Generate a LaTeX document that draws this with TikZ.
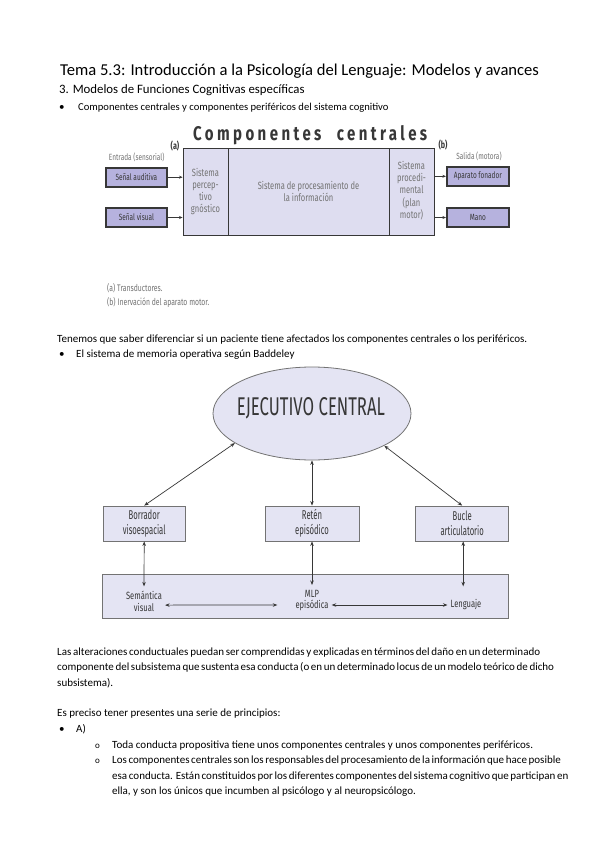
\documentclass[tikz,border=0pt]{standalone}
\usepackage{fontspec}
\usepackage{graphicx}
\setmainfont{Carlito}
\newfontfamily\cond[FakeStretch=0.72]{Fira Sans}
\newfontfamily\condn[FakeStretch=0.6]{Fira Sans}
\newfontfamily\headfont[FakeStretch=0.7,LetterSpace=16,WordSpace=2.2]{Fira Sans}
\usetikzlibrary{arrows.meta,shapes.geometric,calc}
\definecolor{lavA}{RGB}{222,221,240}
\definecolor{lavB}{RGB}{182,178,222}
\definecolor{lavC}{RGB}{228,228,243}
\definecolor{dgray}{RGB}{55,55,55}
\definecolor{mgray}{RGB}{115,115,115}
\definecolor{bgray}{RGB}{115,115,115}
\begin{document}
\begin{tikzpicture}[x=1pt,y=-1pt,
  body/.style={anchor=base west, inner sep=0, font=\fontsize{11}{13}\selectfont},
  box1/.style={draw=dgray, line width=0.9pt, fill=lavA, inner sep=0, minimum height=87,
     font=\cond\fontsize{10.5}{12.2}\selectfont, text=mgray, align=center},
  iobox/.style={draw=dgray, line width=2pt, fill=lavB, inner sep=0, minimum width=60.5, minimum height=19,
     font=\cond\fontsize{9}{10}\selectfont, text=dgray},
  lab1/.style={inner sep=0, font=\cond\fontsize{9}{10}\selectfont, text=mgray},
  arr/.style={-{Stealth[length=3.5pt,width=3pt]}, draw=dgray, line width=0.6pt},
  box2/.style={draw=bgray, line width=0.8pt, fill=lavC, inner sep=0, minimum height=35,
     font=\condn\fontsize{12.8}{15}\selectfont, text=dgray, align=center},
  txt2/.style={inner sep=0, font=\cond\fontsize{10.5}{11.5}\selectfont, text=dgray, align=center},
  dbl/.style={{Stealth[length=4.5pt,width=3.5pt]}-{Stealth[length=4.5pt,width=3.5pt]}, draw=dgray, line width=0.7pt}
]
\useasboundingbox (0,0) rectangle (599,848);
\fill[white] (0,0) rectangle (599,848);

% ---------- header text ----------
\node[anchor=base west, inner sep=0, font=\fontsize{16.6}{18}\selectfont] (title) at (60,76)
  {Tema 5.3: Introducción a la Psicología del Lenguaje: Modelos y avances};
\node[anchor=base west, inner sep=0, font=\fontsize{12.8}{15}\selectfont] (sub) at (59,94)
  {3. Modelos de Funciones Cognitivas específicas};
\node[body] (b1) at (59,111) {•};
\node[body, font=\fontsize{10.6}{12}\selectfont] (b1t) at (78,111)
  {Componentes centrales y componentes periféricos del sistema cognitivo};

% ---------- diagram 1 ----------
\node[anchor=base west, inner sep=0, text=dgray] (head) at (193,140)
  {\resizebox{234pt}{15pt}{\headfont\bfseries Componentes centrales}};

\node[box1, minimum width=45] (perc) at (205.5,191.5) {Sistema\\percep-\\tivo\\gnóstico};
\node[box1, minimum width=161] (proc) at (308.5,191.5) {Sistema de procesamiento de\\la información};
\node[box1, minimum width=45] (mot) at (411.5,191.5) {\raisebox{5pt}{\begin{tabular}{@{}c@{}}Sistema\\procedi-\\mental\\(plan\\motor)\end{tabular}}};

\node[iobox] (aud) at (136.4,177.2) {Señal auditiva};
\node[iobox] (vis) at (136.4,217.5) {Señal visual};
\node[iobox, minimum width=62] (fon) at (477.9,176.3) {Aparato fonador};
\node[iobox, minimum width=62] (mano) at (477.9,217.5) {Mano};

\draw[arr] (aud.east) -- (aud.east -| perc.west);
\draw[arr] (vis.east) -- (vis.east -| perc.west);
\draw[arr] (fon.west -| mot.east) -- (fon.west);
\draw[arr] (mano.west -| mot.east) -- (mano.west);

\node[lab1] (ent) at (136.7,157) {Entrada (sensorial)};
\node[lab1] (sal) at (479,156) {Salida (motora)};
\node[inner sep=0, font=\cond\bfseries\fontsize{10}{11}\selectfont, text=dgray] (la) at (175,146) {(a)};
\node[inner sep=0, font=\cond\bfseries\fontsize{10}{11}\selectfont, text=dgray] (lb) at (443,145) {(b)};

\node[lab1, anchor=west, font=\cond\fontsize{9.5}{10}\selectfont] (fa) at (107,288.3) {(a) Transductores.};
\node[lab1, anchor=west, font=\cond\fontsize{9.5}{10}\selectfont] (fb) at (107,302.3) {(b) Inervación del aparato motor.};

% ---------- middle text ----------
\node[body] (ten) at (57,342)
  {Tenemos que saber diferenciar si un paciente tiene afectados los componentes centrales o los periféricos.};
\node[body] (b2) at (59,357) {•};
\node[body] (b2t) at (76,357) {El sistema de memoria operativa según Baddeley};

% ---------- diagram 2 ----------
\node[ellipse, draw=bgray, line width=0.8pt, fill=lavC, minimum width=198, minimum height=93, inner sep=0] (ec) at (312,413.5) {};
\node[inner sep=0, text=dgray] (ect) at (311,408.5)
  {\resizebox{148pt}{18pt}{\cond\fontsize{26}{28}\selectfont EJECUTIVO CENTRAL}};

\node[box2, minimum width=82.5] (bor) at (144.2,523.5) {Borrador\\visoespacial};
\node[box2, minimum width=94] (ret) at (312,523.5) {Retén\\episódico};
\node[box2, minimum width=93] (buc) at (462.2,523.5) {Bucle\\articulatorio};

\node[draw=bgray, line width=0.8pt, fill=lavC, inner sep=0, minimum width=406, minimum height=44] (ltm) at (305.8,596.8) {};
\node[txt2] (sem) at (144,601.6) {Semántica\\visual};
\node[txt2] (mlp) at (312,600.7) {MLP\\episódica};
\node[txt2] (len) at (466,605) {Lenguaje};

\draw[dbl] (ec.201.7) -- (bor.north);
\draw[dbl] (ec.south) -- (ret.north);
\draw[dbl] (ec.336.7) -- (buc.north);

\coordinate (semtop) at ($(sem.north)+(0,-5)$);
\coordinate (mlptop) at ($(mlp.north)+(0,-5)$);
\coordinate (lentop) at ($(buc.south |- sem.north)+(1,-5)$);
\draw[dbl] (bor.south) -- (semtop);
\draw[dbl] (ret.south) -- (mlptop);
\draw[dbl] ($(buc.south)+(1,0)$) -- (lentop);

\coordinate (h1a) at ($(sem.east)+(3,3.5)$);
\coordinate (h1b) at ($(mlp.west)+(-18,4.3)$);
\coordinate (h2a) at ($(mlp.east)+(3,4.3)$);
\coordinate (h2b) at ($(len.west)+(-3,0)$);
\draw[dbl] (h1a) -- (h1b);
\draw[dbl] (h2a) -- (h2b);

% ---------- bottom text ----------
\node[body] (p1) at (57,655) {\makebox[483pt][s]{Las alteraciones conductuales puedan ser comprendidas y explicadas en términos del daño en un determinado}};
\node[body] (p2) at (57,670.5) {\makebox[483pt][s]{componente del subsistema que sustenta esa conducta (o en un determinado locus de un modelo teórico de dicho}};
\node[body] (p3) at (57,686) {subsistema).};
\node[body] (p4) at (57,716.5) {Es preciso tener presentes una serie de principios:};
\node[body] (b3) at (59,732) {•};
\node[body] (b3t) at (76,732) {A)};
\node[body, font=\fontsize{9}{11}\selectfont] (o1) at (95,748) {o};
\node[body] (i1) at (112,748) {Toda conducta propositiva tiene unos componentes centrales y unos componentes periféricos.};
\node[body, font=\fontsize{9}{11}\selectfont] (o2) at (95,763.5) {o};
\node[body] (i2) at (112,763.5) {\makebox[428pt][s]{Los componentes centrales son los responsables del procesamiento de la información que hace posible}};
\node[body] (i3) at (112,779) {\makebox[428pt][s]{esa conducta. Están constituidos por los diferentes componentes del sistema cognitivo que participan en}};
\node[body] (i4) at (112,794.5) {ella, y son los únicos que incumben al psicólogo y al neuropsicólogo.};
\end{tikzpicture}
\end{document}
